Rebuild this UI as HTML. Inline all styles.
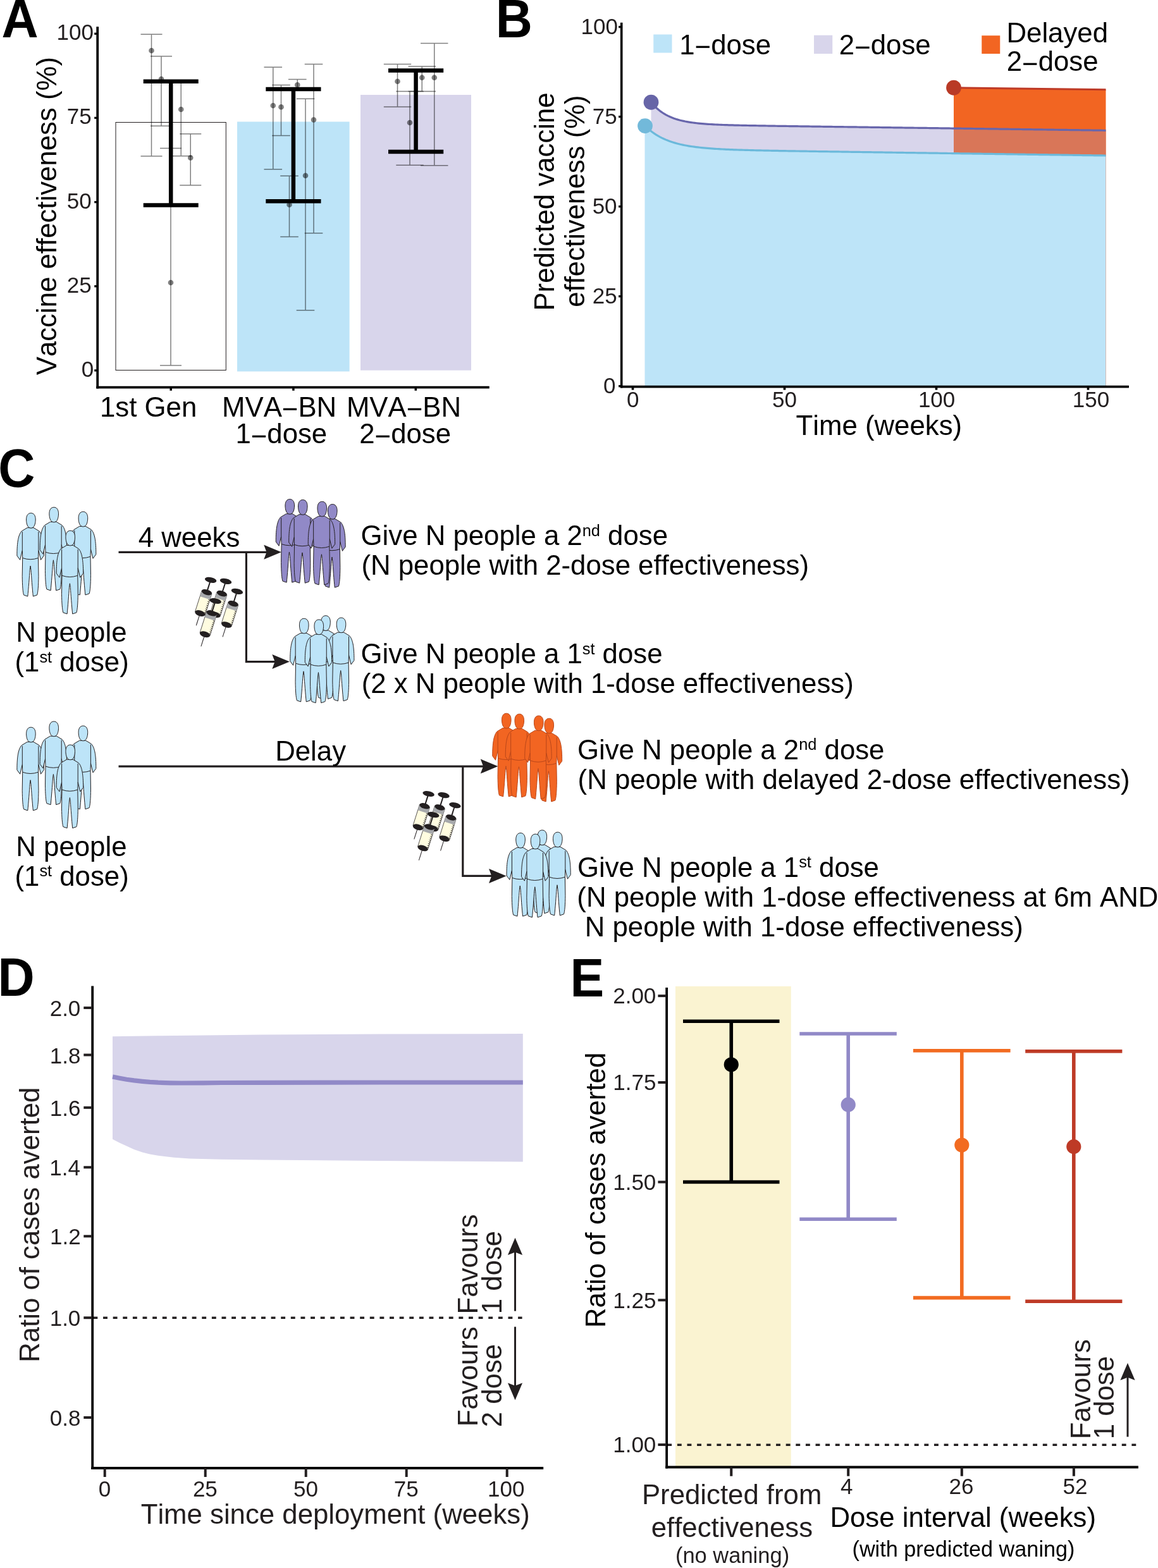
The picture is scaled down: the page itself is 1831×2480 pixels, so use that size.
<!DOCTYPE html>
<html lang="en"><head><meta charset="utf-8"><title>Figure</title>
<style>
html,body{margin:0;padding:0;background:#fff;width:1831px;height:2480px}
svg{display:block}
text{font-family:"Liberation Sans",sans-serif;font-kerning:none;white-space:pre}
</style></head>
<body>
<svg width="1831" height="2480" viewBox="0 0 1831 2480">
<rect width="1831" height="2480" fill="#fff"/>
<text transform="translate(2.49 59) scale(1 1.05)" font-size="80.5" font-weight="bold" fill="#000">A</text>
<text transform="translate(783.82 59.25) scale(1 1.05)" font-size="80.5" font-weight="bold" fill="#000">B</text>
<text transform="translate(-2.74 769.5) scale(1 1.05)" font-size="80.5" font-weight="bold" fill="#000">C</text>
<text transform="translate(-3.44 1575) scale(1 1.05)" font-size="80.5" font-weight="bold" fill="#000">D</text>
<text transform="translate(901.41 1575.5) scale(1 1.05)" font-size="80.5" font-weight="bold" fill="#000">E</text>
<rect x="183" y="193.5" width="174.3" height="392" fill="#fff" stroke="#231F20" stroke-width="1"/>
<rect x="375" y="192.5" width="177.6" height="395" fill="#BDE4F8"/>
<rect x="570" y="150" width="175" height="435.75" fill="#D8D5EB"/>
<g stroke="#000" stroke-opacity="0.5" stroke-width="1.5" fill="none"><path d="M239.5 54.25V247M222.5 54.25H256.5M222.5 247H256.5"/></g>
<circle cx="239.5" cy="80" r="4.3" fill="#000" fill-opacity="0.5"/>
<g stroke="#000" stroke-opacity="0.5" stroke-width="1.5" fill="none"><path d="M255 89V199.25M238 89H272M238 199.25H272"/></g>
<circle cx="255" cy="125" r="4.3" fill="#000" fill-opacity="0.5"/>
<g stroke="#000" stroke-opacity="0.5" stroke-width="1.5" fill="none"><path d="M286.25 128.5V246.75M269.25 128.5H303.25M269.25 246.75H303.25"/></g>
<circle cx="286.25" cy="173" r="4.3" fill="#000" fill-opacity="0.5"/>
<g stroke="#000" stroke-opacity="0.5" stroke-width="1.5" fill="none"><path d="M301.25 211.75V293M284.25 211.75H318.25M284.25 293H318.25"/></g>
<circle cx="301.25" cy="249.5" r="4.3" fill="#000" fill-opacity="0.5"/>
<g stroke="#000" stroke-opacity="0.5" stroke-width="1.5" fill="none"><path d="M270 234.5V578M253 234.5H287M253 578H287"/></g>
<circle cx="270" cy="447" r="4.3" fill="#000" fill-opacity="0.5"/>
<g stroke="#000" stroke-opacity="0.5" stroke-width="1.5" fill="none"><path d="M431.75 106.25V267.75M417.45 106.25H446.05M417.45 267.75H446.05"/></g>
<circle cx="431.75" cy="167" r="4.3" fill="#000" fill-opacity="0.5"/>
<g stroke="#000" stroke-opacity="0.5" stroke-width="1.5" fill="none"><path d="M444.5 134.5V214.5M430.2 134.5H458.8M430.2 214.5H458.8"/></g>
<circle cx="444.5" cy="169.25" r="4.3" fill="#000" fill-opacity="0.5"/>
<g stroke="#000" stroke-opacity="0.5" stroke-width="1.5" fill="none"><path d="M470.25 125.5V143M455.95 125.5H484.55M455.95 143H484.55"/></g>
<circle cx="470.25" cy="134.25" r="4.3" fill="#000" fill-opacity="0.5"/>
<g stroke="#000" stroke-opacity="0.5" stroke-width="1.5" fill="none"><path d="M457.5 278.25V374.5M443.2 278.25H471.8M443.2 374.5H471.8"/></g>
<circle cx="457.5" cy="323.75" r="4.3" fill="#000" fill-opacity="0.5"/>
<g stroke="#000" stroke-opacity="0.5" stroke-width="1.5" fill="none"><path d="M483 156.25V490.75M468.7 156.25H497.3M468.7 490.75H497.3"/></g>
<circle cx="483" cy="277.75" r="4.3" fill="#000" fill-opacity="0.5"/>
<g stroke="#000" stroke-opacity="0.5" stroke-width="1.5" fill="none"><path d="M496 101.5V368.75M481.7 101.5H510.3M481.7 368.75H510.3"/></g>
<circle cx="496" cy="189.5" r="4.3" fill="#000" fill-opacity="0.5"/>
<g stroke="#000" stroke-opacity="0.5" stroke-width="1.5" fill="none"><path d="M628.5 101.5V169M606.8 101.5H650.2M606.8 169H650.2"/></g>
<circle cx="628.5" cy="128.75" r="4.3" fill="#000" fill-opacity="0.5"/>
<g stroke="#000" stroke-opacity="0.5" stroke-width="1.5" fill="none"><path d="M648 144.5V261.25M626.3 144.5H669.7M626.3 261.25H669.7"/></g>
<circle cx="648" cy="194" r="4.3" fill="#000" fill-opacity="0.5"/>
<g stroke="#000" stroke-opacity="0.5" stroke-width="1.5" fill="none"><path d="M667.25 105V144.5M645.55 105H688.95M645.55 144.5H688.95"/></g>
<circle cx="667.25" cy="122.75" r="4.3" fill="#000" fill-opacity="0.5"/>
<g stroke="#000" stroke-opacity="0.5" stroke-width="1.5" fill="none"><path d="M686.75 68.5V261.75M665.05 68.5H708.45M665.05 261.75H708.45"/></g>
<circle cx="686.75" cy="122.75" r="4.3" fill="#000" fill-opacity="0.5"/>
<path d="M270.2 128.75V324.5M226.7 128.75H313.7M226.7 324.5H313.7" stroke="#000" stroke-width="6.5" fill="none"/>
<path d="M463.9 141V318.25M420.3 141H507.5M420.3 318.25H507.5" stroke="#000" stroke-width="6.5" fill="none"/>
<path d="M657.6 111.5V240M614 111.5H701.2M614 240H701.2" stroke="#000" stroke-width="6.5" fill="none"/>
<line x1="154.2" y1="42.3" x2="154.2" y2="614.5" stroke="#000" stroke-width="3.8"/>
<line x1="152.3" y1="612.7" x2="773.75" y2="612.7" stroke="#000" stroke-width="3.8"/>
<line x1="149.2" y1="585.9" x2="153" y2="585.9" stroke="#000" stroke-width="3.3"/>
<line x1="149.2" y1="452.75" x2="153" y2="452.75" stroke="#000" stroke-width="3.3"/>
<line x1="149.2" y1="319.6" x2="153" y2="319.6" stroke="#000" stroke-width="3.3"/>
<line x1="149.2" y1="186.45" x2="153" y2="186.45" stroke="#000" stroke-width="3.3"/>
<line x1="149.2" y1="53.3" x2="153" y2="53.3" stroke="#000" stroke-width="3.3"/>
<line x1="270.2" y1="613" x2="270.2" y2="617.8" stroke="#000" stroke-width="3.5"/>
<line x1="463.9" y1="613" x2="463.9" y2="617.8" stroke="#000" stroke-width="3.5"/>
<line x1="657.3" y1="613" x2="657.3" y2="617.8" stroke="#000" stroke-width="3.5"/>
<text transform="translate(128.8 595.8) scale(1 1)" font-size="35" fill="#231F20">0</text>
<text transform="translate(105.84 462.65) scale(1 1)" font-size="35" fill="#231F20">25</text>
<text transform="translate(105.74 329.5) scale(1 1)" font-size="35" fill="#231F20">50</text>
<text transform="translate(105.84 196.35) scale(1 1)" font-size="35" fill="#231F20">75</text>
<text transform="translate(89.57 63.2) scale(1 1)" font-size="35" fill="#231F20">100</text>
<text transform="translate(158.02 658.75) scale(1 1.03)" font-size="43.75" fill="#000">1st Gen</text>
<text transform="translate(351.05 658.5) scale(1 1.03)" font-size="43.75" fill="#000">MVA<tspan dy="3.38">−</tspan><tspan dy="-3.38">BN</tspan></text>
<text transform="translate(372.43 701.25) scale(1 1.03)" font-size="43.75" fill="#000">1<tspan dy="3.38">−</tspan><tspan dy="-3.38">dose</tspan></text>
<text transform="translate(547.92 658.5) scale(1 1.03)" font-size="43.75" fill="#000">MVA<tspan dy="3.38">−</tspan><tspan dy="-3.38">BN</tspan></text>
<text transform="translate(568.25 701.25) scale(1 1.03)" font-size="43.75" fill="#000">2<tspan dy="3.38">−</tspan><tspan dy="-3.38">dose</tspan></text>
<text transform="translate(89.25 593.28) rotate(-90) scale(1 1.03)" font-size="43.75" fill="#000">Vaccine effectiveness (%)</text>
<path d="M1508 138.75L1748.5 141.75V611H1508Z" fill="#F26522"/>
<path d="M1029.5 161.7 L1032.5 165.22 L1035.5 168.39 L1038.5 171.24 L1041.5 173.82 L1044.5 176.15 L1047.5 178.24 L1050.5 180.14 L1053.5 181.84 L1056.5 183.39 L1059.5 184.78 L1062.5 186.04 L1065.5 187.17 L1068.5 188.2 L1071.5 189.13 L1074.5 189.97 L1077.5 190.73 L1080.5 191.42 L1083.5 192.05 L1086.5 192.61 L1089.5 193.13 L1092.5 193.59 L1095.5 194.02 L1098.5 194.41 L1101.5 194.76 L1104.5 195.08 L1107.5 195.37 L1110.5 195.64 L1113.5 195.88 L1116.5 196.11 L1119.5 196.31 L1122.5 196.5 L1125.5 196.68 L1128.5 196.84 L1131.5 196.99 L1134.5 197.13 L1137.5 197.26 L1140.5 197.38 L1143.5 197.49 L1146.5 197.6 L1149.5 197.69 L1152.5 197.79 L1155.5 197.87 L1158.5 197.96 L1161.5 198.04 L1164.5 198.11 L1167.5 198.18 L1170.5 198.25 L1173.5 198.32 L1176.5 198.38 L1179.5 198.44 L1182.5 198.5 L1185.5 198.56 L1188.5 198.61 L1191.5 198.67 L1194.5 198.72 L1197.5 198.77 L1200.5 198.82 L1203.5 198.87 L1206.5 198.92 L1209.5 198.97 L1212.5 199.01 L1215.5 199.06 L1218.5 199.1 L1221.5 199.15 L1224.5 199.19 L1227.5 199.24 L1230.5 199.28 L1233.5 199.33 L1236.5 199.37 L1239.5 199.41 L1242.5 199.46 L1245.5 199.5 L1248.5 199.54 L1251.5 199.58 L1254.5 199.62 L1257.5 199.67 L1260.5 199.71 L1263.5 199.75 L1266.5 199.79 L1269.5 199.83 L1272.5 199.87 L1275.5 199.91 L1278.5 199.96 L1281.5 200 L1284.5 200.04 L1287.5 200.08 L1290.5 200.12 L1293.5 200.16 L1296.5 200.2 L1299.5 200.24 L1302.5 200.28 L1305.5 200.32 L1308.5 200.36 L1311.5 200.41 L1314.5 200.45 L1317.5 200.49 L1320.5 200.53 L1323.5 200.57 L1326.5 200.61 L1329.5 200.65 L1332.5 200.69 L1335.5 200.73 L1338.5 200.77 L1341.5 200.81 L1344.5 200.85 L1347.5 200.89 L1350.5 200.93 L1353.5 200.97 L1356.5 201.01 L1359.5 201.05 L1362.5 201.1 L1365.5 201.14 L1368.5 201.18 L1371.5 201.22 L1374.5 201.26 L1377.5 201.3 L1380.5 201.34 L1383.5 201.38 L1386.5 201.42 L1389.5 201.46 L1392.5 201.5 L1395.5 201.54 L1398.5 201.58 L1401.5 201.62 L1404.5 201.66 L1407.5 201.7 L1410.5 201.74 L1413.5 201.78 L1416.5 201.82 L1419.5 201.86 L1422.5 201.91 L1425.5 201.95 L1428.5 201.99 L1431.5 202.03 L1434.5 202.07 L1437.5 202.11 L1440.5 202.15 L1443.5 202.19 L1446.5 202.23 L1449.5 202.27 L1452.5 202.31 L1455.5 202.35 L1458.5 202.39 L1461.5 202.43 L1464.5 202.47 L1467.5 202.51 L1470.5 202.55 L1473.5 202.59 L1476.5 202.63 L1479.5 202.67 L1482.5 202.72 L1485.5 202.76 L1488.5 202.8 L1491.5 202.84 L1494.5 202.88 L1497.5 202.92 L1500.5 202.96 L1503.5 203 L1506.5 203.04 L1508 203.06 V611.6 H1029.5Z" fill="#D8D5EB"/>
<path d="M1508 203.06 L1748.5 206.31 V611.6 H1508Z" fill="#D97658"/>
<path d="M1019.5 198.7 L1022.5 201.6 L1025.5 204.28 L1028.5 206.76 L1031.5 209.04 L1034.5 211.16 L1037.5 213.11 L1040.5 214.92 L1043.5 216.58 L1046.5 218.13 L1049.5 219.55 L1052.5 220.87 L1055.5 222.09 L1058.5 223.22 L1061.5 224.27 L1064.5 225.23 L1067.5 226.13 L1070.5 226.96 L1073.5 227.73 L1076.5 228.44 L1079.5 229.1 L1082.5 229.71 L1085.5 230.28 L1088.5 230.81 L1091.5 231.3 L1094.5 231.76 L1097.5 232.18 L1100.5 232.57 L1103.5 232.94 L1106.5 233.28 L1109.5 233.6 L1112.5 233.9 L1115.5 234.18 L1118.5 234.44 L1121.5 234.68 L1124.5 234.91 L1127.5 235.12 L1130.5 235.32 L1133.5 235.51 L1136.5 235.68 L1139.5 235.85 L1142.5 236 L1145.5 236.15 L1148.5 236.29 L1151.5 236.42 L1154.5 236.55 L1157.5 236.67 L1160.5 236.78 L1163.5 236.89 L1166.5 236.99 L1169.5 237.09 L1172.5 237.18 L1175.5 237.27 L1178.5 237.36 L1181.5 237.44 L1184.5 237.52 L1187.5 237.6 L1190.5 237.67 L1193.5 237.74 L1196.5 237.81 L1199.5 237.88 L1202.5 237.95 L1205.5 238.01 L1208.5 238.07 L1211.5 238.13 L1214.5 238.19 L1217.5 238.25 L1220.5 238.31 L1223.5 238.36 L1226.5 238.42 L1229.5 238.47 L1232.5 238.53 L1235.5 238.58 L1238.5 238.63 L1241.5 238.68 L1244.5 238.73 L1247.5 238.78 L1250.5 238.83 L1253.5 238.88 L1256.5 238.93 L1259.5 238.98 L1262.5 239.02 L1265.5 239.07 L1268.5 239.12 L1271.5 239.16 L1274.5 239.21 L1277.5 239.26 L1280.5 239.3 L1283.5 239.35 L1286.5 239.39 L1289.5 239.44 L1292.5 239.48 L1295.5 239.53 L1298.5 239.57 L1301.5 239.62 L1304.5 239.66 L1307.5 239.71 L1310.5 239.75 L1313.5 239.8 L1316.5 239.84 L1319.5 239.88 L1322.5 239.93 L1325.5 239.97 L1328.5 240.01 L1331.5 240.06 L1334.5 240.1 L1337.5 240.15 L1340.5 240.19 L1343.5 240.23 L1346.5 240.28 L1349.5 240.32 L1352.5 240.36 L1355.5 240.41 L1358.5 240.45 L1361.5 240.49 L1364.5 240.54 L1367.5 240.58 L1370.5 240.62 L1373.5 240.67 L1376.5 240.71 L1379.5 240.75 L1382.5 240.8 L1385.5 240.84 L1388.5 240.88 L1391.5 240.93 L1394.5 240.97 L1397.5 241.01 L1400.5 241.06 L1403.5 241.1 L1406.5 241.14 L1409.5 241.18 L1412.5 241.23 L1415.5 241.27 L1418.5 241.31 L1421.5 241.36 L1424.5 241.4 L1427.5 241.44 L1430.5 241.49 L1433.5 241.53 L1436.5 241.57 L1439.5 241.62 L1442.5 241.66 L1445.5 241.7 L1448.5 241.74 L1451.5 241.79 L1454.5 241.83 L1457.5 241.87 L1460.5 241.92 L1463.5 241.96 L1466.5 242 L1469.5 242.05 L1472.5 242.09 L1475.5 242.13 L1478.5 242.17 L1481.5 242.22 L1484.5 242.26 L1487.5 242.3 L1490.5 242.35 L1493.5 242.39 L1496.5 242.43 L1499.5 242.48 L1502.5 242.52 L1505.5 242.56 L1508.5 242.61 L1511.5 242.65 L1514.5 242.69 L1517.5 242.73 L1520.5 242.78 L1523.5 242.82 L1526.5 242.86 L1529.5 242.91 L1532.5 242.95 L1535.5 242.99 L1538.5 243.04 L1541.5 243.08 L1544.5 243.12 L1547.5 243.16 L1550.5 243.21 L1553.5 243.25 L1556.5 243.29 L1559.5 243.34 L1562.5 243.38 L1565.5 243.42 L1568.5 243.47 L1571.5 243.51 L1574.5 243.55 L1577.5 243.59 L1580.5 243.64 L1583.5 243.68 L1586.5 243.72 L1589.5 243.77 L1592.5 243.81 L1595.5 243.85 L1598.5 243.9 L1601.5 243.94 L1604.5 243.98 L1607.5 244.02 L1610.5 244.07 L1613.5 244.11 L1616.5 244.15 L1619.5 244.2 L1622.5 244.24 L1625.5 244.28 L1628.5 244.33 L1631.5 244.37 L1634.5 244.41 L1637.5 244.45 L1640.5 244.5 L1643.5 244.54 L1646.5 244.58 L1649.5 244.63 L1652.5 244.67 L1655.5 244.71 L1658.5 244.76 L1661.5 244.8 L1664.5 244.84 L1667.5 244.89 L1670.5 244.93 L1673.5 244.97 L1676.5 245.01 L1679.5 245.06 L1682.5 245.1 L1685.5 245.14 L1688.5 245.19 L1691.5 245.23 L1694.5 245.27 L1697.5 245.32 L1700.5 245.36 L1703.5 245.4 L1706.5 245.44 L1709.5 245.49 L1712.5 245.53 L1715.5 245.57 L1718.5 245.62 L1721.5 245.66 L1724.5 245.7 L1727.5 245.75 L1730.5 245.79 L1733.5 245.83 L1736.5 245.87 L1739.5 245.92 L1742.5 245.96 L1745.5 246 L1748.5 246.05V611.6 H1019.5Z" fill="#BDE4F8"/>
<path d="M1508 138.75L1748.5 141.75" stroke="#BE3A26" stroke-width="3" fill="none"/>
<path d="M1029.5 161.7 L1032.5 165.22 L1035.5 168.39 L1038.5 171.24 L1041.5 173.82 L1044.5 176.15 L1047.5 178.24 L1050.5 180.14 L1053.5 181.84 L1056.5 183.39 L1059.5 184.78 L1062.5 186.04 L1065.5 187.17 L1068.5 188.2 L1071.5 189.13 L1074.5 189.97 L1077.5 190.73 L1080.5 191.42 L1083.5 192.05 L1086.5 192.61 L1089.5 193.13 L1092.5 193.59 L1095.5 194.02 L1098.5 194.41 L1101.5 194.76 L1104.5 195.08 L1107.5 195.37 L1110.5 195.64 L1113.5 195.88 L1116.5 196.11 L1119.5 196.31 L1122.5 196.5 L1125.5 196.68 L1128.5 196.84 L1131.5 196.99 L1134.5 197.13 L1137.5 197.26 L1140.5 197.38 L1143.5 197.49 L1146.5 197.6 L1149.5 197.69 L1152.5 197.79 L1155.5 197.87 L1158.5 197.96 L1161.5 198.04 L1164.5 198.11 L1167.5 198.18 L1170.5 198.25 L1173.5 198.32 L1176.5 198.38 L1179.5 198.44 L1182.5 198.5 L1185.5 198.56 L1188.5 198.61 L1191.5 198.67 L1194.5 198.72 L1197.5 198.77 L1200.5 198.82 L1203.5 198.87 L1206.5 198.92 L1209.5 198.97 L1212.5 199.01 L1215.5 199.06 L1218.5 199.1 L1221.5 199.15 L1224.5 199.19 L1227.5 199.24 L1230.5 199.28 L1233.5 199.33 L1236.5 199.37 L1239.5 199.41 L1242.5 199.46 L1245.5 199.5 L1248.5 199.54 L1251.5 199.58 L1254.5 199.62 L1257.5 199.67 L1260.5 199.71 L1263.5 199.75 L1266.5 199.79 L1269.5 199.83 L1272.5 199.87 L1275.5 199.91 L1278.5 199.96 L1281.5 200 L1284.5 200.04 L1287.5 200.08 L1290.5 200.12 L1293.5 200.16 L1296.5 200.2 L1299.5 200.24 L1302.5 200.28 L1305.5 200.32 L1308.5 200.36 L1311.5 200.41 L1314.5 200.45 L1317.5 200.49 L1320.5 200.53 L1323.5 200.57 L1326.5 200.61 L1329.5 200.65 L1332.5 200.69 L1335.5 200.73 L1338.5 200.77 L1341.5 200.81 L1344.5 200.85 L1347.5 200.89 L1350.5 200.93 L1353.5 200.97 L1356.5 201.01 L1359.5 201.05 L1362.5 201.1 L1365.5 201.14 L1368.5 201.18 L1371.5 201.22 L1374.5 201.26 L1377.5 201.3 L1380.5 201.34 L1383.5 201.38 L1386.5 201.42 L1389.5 201.46 L1392.5 201.5 L1395.5 201.54 L1398.5 201.58 L1401.5 201.62 L1404.5 201.66 L1407.5 201.7 L1410.5 201.74 L1413.5 201.78 L1416.5 201.82 L1419.5 201.86 L1422.5 201.91 L1425.5 201.95 L1428.5 201.99 L1431.5 202.03 L1434.5 202.07 L1437.5 202.11 L1440.5 202.15 L1443.5 202.19 L1446.5 202.23 L1449.5 202.27 L1452.5 202.31 L1455.5 202.35 L1458.5 202.39 L1461.5 202.43 L1464.5 202.47 L1467.5 202.51 L1470.5 202.55 L1473.5 202.59 L1476.5 202.63 L1479.5 202.67 L1482.5 202.72 L1485.5 202.76 L1488.5 202.8 L1491.5 202.84 L1494.5 202.88 L1497.5 202.92 L1500.5 202.96 L1503.5 203 L1506.5 203.04 L1509.5 203.08 L1512.5 203.12 L1515.5 203.16 L1518.5 203.2 L1521.5 203.24 L1524.5 203.28 L1527.5 203.32 L1530.5 203.36 L1533.5 203.4 L1536.5 203.44 L1539.5 203.48 L1542.5 203.53 L1545.5 203.57 L1548.5 203.61 L1551.5 203.65 L1554.5 203.69 L1557.5 203.73 L1560.5 203.77 L1563.5 203.81 L1566.5 203.85 L1569.5 203.89 L1572.5 203.93 L1575.5 203.97 L1578.5 204.01 L1581.5 204.05 L1584.5 204.09 L1587.5 204.13 L1590.5 204.17 L1593.5 204.21 L1596.5 204.25 L1599.5 204.29 L1602.5 204.34 L1605.5 204.38 L1608.5 204.42 L1611.5 204.46 L1614.5 204.5 L1617.5 204.54 L1620.5 204.58 L1623.5 204.62 L1626.5 204.66 L1629.5 204.7 L1632.5 204.74 L1635.5 204.78 L1638.5 204.82 L1641.5 204.86 L1644.5 204.9 L1647.5 204.94 L1650.5 204.98 L1653.5 205.02 L1656.5 205.06 L1659.5 205.1 L1662.5 205.15 L1665.5 205.19 L1668.5 205.23 L1671.5 205.27 L1674.5 205.31 L1677.5 205.35 L1680.5 205.39 L1683.5 205.43 L1686.5 205.47 L1689.5 205.51 L1692.5 205.55 L1695.5 205.59 L1698.5 205.63 L1701.5 205.67 L1704.5 205.71 L1707.5 205.75 L1710.5 205.79 L1713.5 205.83 L1716.5 205.87 L1719.5 205.91 L1722.5 205.96 L1725.5 206 L1728.5 206.04 L1731.5 206.08 L1734.5 206.12 L1737.5 206.16 L1740.5 206.2 L1743.5 206.24 L1746.5 206.28 L1748.5 206.31" stroke="#6866AC" stroke-width="3.2" fill="none"/>
<path d="M1019.5 198.7 L1022.5 201.6 L1025.5 204.28 L1028.5 206.76 L1031.5 209.04 L1034.5 211.16 L1037.5 213.11 L1040.5 214.92 L1043.5 216.58 L1046.5 218.13 L1049.5 219.55 L1052.5 220.87 L1055.5 222.09 L1058.5 223.22 L1061.5 224.27 L1064.5 225.23 L1067.5 226.13 L1070.5 226.96 L1073.5 227.73 L1076.5 228.44 L1079.5 229.1 L1082.5 229.71 L1085.5 230.28 L1088.5 230.81 L1091.5 231.3 L1094.5 231.76 L1097.5 232.18 L1100.5 232.57 L1103.5 232.94 L1106.5 233.28 L1109.5 233.6 L1112.5 233.9 L1115.5 234.18 L1118.5 234.44 L1121.5 234.68 L1124.5 234.91 L1127.5 235.12 L1130.5 235.32 L1133.5 235.51 L1136.5 235.68 L1139.5 235.85 L1142.5 236 L1145.5 236.15 L1148.5 236.29 L1151.5 236.42 L1154.5 236.55 L1157.5 236.67 L1160.5 236.78 L1163.5 236.89 L1166.5 236.99 L1169.5 237.09 L1172.5 237.18 L1175.5 237.27 L1178.5 237.36 L1181.5 237.44 L1184.5 237.52 L1187.5 237.6 L1190.5 237.67 L1193.5 237.74 L1196.5 237.81 L1199.5 237.88 L1202.5 237.95 L1205.5 238.01 L1208.5 238.07 L1211.5 238.13 L1214.5 238.19 L1217.5 238.25 L1220.5 238.31 L1223.5 238.36 L1226.5 238.42 L1229.5 238.47 L1232.5 238.53 L1235.5 238.58 L1238.5 238.63 L1241.5 238.68 L1244.5 238.73 L1247.5 238.78 L1250.5 238.83 L1253.5 238.88 L1256.5 238.93 L1259.5 238.98 L1262.5 239.02 L1265.5 239.07 L1268.5 239.12 L1271.5 239.16 L1274.5 239.21 L1277.5 239.26 L1280.5 239.3 L1283.5 239.35 L1286.5 239.39 L1289.5 239.44 L1292.5 239.48 L1295.5 239.53 L1298.5 239.57 L1301.5 239.62 L1304.5 239.66 L1307.5 239.71 L1310.5 239.75 L1313.5 239.8 L1316.5 239.84 L1319.5 239.88 L1322.5 239.93 L1325.5 239.97 L1328.5 240.01 L1331.5 240.06 L1334.5 240.1 L1337.5 240.15 L1340.5 240.19 L1343.5 240.23 L1346.5 240.28 L1349.5 240.32 L1352.5 240.36 L1355.5 240.41 L1358.5 240.45 L1361.5 240.49 L1364.5 240.54 L1367.5 240.58 L1370.5 240.62 L1373.5 240.67 L1376.5 240.71 L1379.5 240.75 L1382.5 240.8 L1385.5 240.84 L1388.5 240.88 L1391.5 240.93 L1394.5 240.97 L1397.5 241.01 L1400.5 241.06 L1403.5 241.1 L1406.5 241.14 L1409.5 241.18 L1412.5 241.23 L1415.5 241.27 L1418.5 241.31 L1421.5 241.36 L1424.5 241.4 L1427.5 241.44 L1430.5 241.49 L1433.5 241.53 L1436.5 241.57 L1439.5 241.62 L1442.5 241.66 L1445.5 241.7 L1448.5 241.74 L1451.5 241.79 L1454.5 241.83 L1457.5 241.87 L1460.5 241.92 L1463.5 241.96 L1466.5 242 L1469.5 242.05 L1472.5 242.09 L1475.5 242.13 L1478.5 242.17 L1481.5 242.22 L1484.5 242.26 L1487.5 242.3 L1490.5 242.35 L1493.5 242.39 L1496.5 242.43 L1499.5 242.48 L1502.5 242.52 L1505.5 242.56 L1508.5 242.61 L1511.5 242.65 L1514.5 242.69 L1517.5 242.73 L1520.5 242.78 L1523.5 242.82 L1526.5 242.86 L1529.5 242.91 L1532.5 242.95 L1535.5 242.99 L1538.5 243.04 L1541.5 243.08 L1544.5 243.12 L1547.5 243.16 L1550.5 243.21 L1553.5 243.25 L1556.5 243.29 L1559.5 243.34 L1562.5 243.38 L1565.5 243.42 L1568.5 243.47 L1571.5 243.51 L1574.5 243.55 L1577.5 243.59 L1580.5 243.64 L1583.5 243.68 L1586.5 243.72 L1589.5 243.77 L1592.5 243.81 L1595.5 243.85 L1598.5 243.9 L1601.5 243.94 L1604.5 243.98 L1607.5 244.02 L1610.5 244.07 L1613.5 244.11 L1616.5 244.15 L1619.5 244.2 L1622.5 244.24 L1625.5 244.28 L1628.5 244.33 L1631.5 244.37 L1634.5 244.41 L1637.5 244.45 L1640.5 244.5 L1643.5 244.54 L1646.5 244.58 L1649.5 244.63 L1652.5 244.67 L1655.5 244.71 L1658.5 244.76 L1661.5 244.8 L1664.5 244.84 L1667.5 244.89 L1670.5 244.93 L1673.5 244.97 L1676.5 245.01 L1679.5 245.06 L1682.5 245.1 L1685.5 245.14 L1688.5 245.19 L1691.5 245.23 L1694.5 245.27 L1697.5 245.32 L1700.5 245.36 L1703.5 245.4 L1706.5 245.44 L1709.5 245.49 L1712.5 245.53 L1715.5 245.57 L1718.5 245.62 L1721.5 245.66 L1724.5 245.7 L1727.5 245.75 L1730.5 245.79 L1733.5 245.83 L1736.5 245.87 L1739.5 245.92 L1742.5 245.96 L1745.5 246 L1748.5 246.05" stroke="#6BB9DB" stroke-width="3.2" fill="none"/>
<circle cx="1020" cy="199.1" r="11.9" fill="#72B9DA"/>
<circle cx="1029.5" cy="161.75" r="11.9" fill="#6765A7"/>
<circle cx="1508" cy="138.75" r="11.9" fill="#B93A26"/>
<rect x="1033.25" y="54.5" width="29.25" height="29" fill="#BDE4F8"/>
<rect x="1287" y="55.75" width="29.25" height="29.25" fill="#D8D5EB"/>
<rect x="1552.25" y="56.25" width="29" height="28.75" fill="#F26522"/>
<text transform="translate(1074.28 85.9) scale(1 1.03)" font-size="43.75" fill="#000">1<tspan dy="3.38">−</tspan><tspan dy="-3.38">dose</tspan></text>
<text transform="translate(1326.87 86.3) scale(1 1.03)" font-size="43.75" fill="#000">2<tspan dy="3.38">−</tspan><tspan dy="-3.38">dose</tspan></text>
<text transform="translate(1591.48 67.4) scale(1 1.03)" font-size="43.75" fill="#000">Delayed</text>
<text transform="translate(1591.75 112.4) scale(1 1.03)" font-size="43.75" fill="#000">2<tspan dy="3.38">−</tspan><tspan dy="-3.38">dose</tspan></text>
<line x1="982.7" y1="35.75" x2="982.7" y2="613.5" stroke="#000" stroke-width="3.6"/>
<line x1="980.9" y1="611.6" x2="1785" y2="611.6" stroke="#000" stroke-width="3.8"/>
<line x1="978.1" y1="610.7" x2="982" y2="610.7" stroke="#000" stroke-width="3.4"/>
<line x1="978.1" y1="468.67" x2="982" y2="468.67" stroke="#000" stroke-width="3.4"/>
<line x1="978.1" y1="326.64" x2="982" y2="326.64" stroke="#000" stroke-width="3.4"/>
<line x1="978.1" y1="184.61" x2="982" y2="184.61" stroke="#000" stroke-width="3.4"/>
<line x1="978.1" y1="42.58" x2="982" y2="42.58" stroke="#000" stroke-width="3.4"/>
<line x1="1000.5" y1="612" x2="1000.5" y2="616.7" stroke="#000" stroke-width="3.6"/>
<line x1="1240.5" y1="612" x2="1240.5" y2="616.7" stroke="#000" stroke-width="3.6"/>
<line x1="1480.5" y1="612" x2="1480.5" y2="616.7" stroke="#000" stroke-width="3.6"/>
<line x1="1720.5" y1="612" x2="1720.5" y2="616.7" stroke="#000" stroke-width="3.6"/>
<text transform="translate(954.1 622.4) scale(1 1)" font-size="35" fill="#231F20">0</text>
<text transform="translate(936.74 480.37) scale(1 1)" font-size="35" fill="#231F20">25</text>
<text transform="translate(936.64 338.34) scale(1 1)" font-size="35" fill="#231F20">50</text>
<text transform="translate(936.74 196.31) scale(1 1)" font-size="35" fill="#231F20">75</text>
<text transform="translate(918.47 54.28) scale(1 1)" font-size="35" fill="#231F20">100</text>
<text transform="translate(990.92 644.35) scale(1 1)" font-size="35" fill="#231F20">0</text>
<text transform="translate(1221.12 644.35) scale(1 1)" font-size="35" fill="#231F20">50</text>
<text transform="translate(1451.9 644.35) scale(1 1)" font-size="35" fill="#231F20">100</text>
<text transform="translate(1695.85 644.35) scale(1 1)" font-size="35" fill="#231F20">150</text>
<text transform="translate(1258.6 688) scale(1 1.03)" font-size="43.75" fill="#000">Time (weeks)</text>
<text transform="translate(876.25 491.61) rotate(-90) scale(1 1.03)" font-size="43.75" fill="#000">Predicted vaccine</text>
<text transform="translate(923.75 485.84) rotate(-90) scale(1 1.03)" font-size="43.75" fill="#000">effectiveness (%)</text>
<defs>
<g id="person">
<g transform="translate(-0.8 0)">
<path d="M-5,23.2 L-13.8,28.5 C-19,34 -21.3,46 -21.2,67.5 L-16.4,74 L-12.8,59 L-12.4,71 L-12.9,100 C-12.7,115 -12,125 -10.5,129.6 L-4.3,131.7 C-3,120 -1.6,100 -0.9,90 L0,83.5 L0.9,90 C1.6,100 3,120 4.3,131.7 L10.5,129.6 C12,125 12.7,115 12.9,100 L12.4,71 L12.8,59 L16.4,74 L21.2,67.5 C21.3,46 19,34 13.8,28.5 L5,23.2 Z"/>
<path d="M-12.8,29.5 L-12.8,59 M12.8,29.5 L12.8,59 M-12.4,71 Q0,75.5 12.4,71" fill="none"/>
</g>
<path d="M0,0 C4.8,0 7.4,4.2 7.3,10.5 C7.2,17 5.3,23.7 0,23.7 C-5.3,23.7 -7.2,17 -7.3,10.5 C-7.4,4.2 -4.8,0 0,0Z"/>
</g>
<g id="syr">
<line x1="0" y1="59" x2="0" y2="75.5" stroke="#231F20" stroke-width="1"/>
<rect x="-8.3" y="20.3" width="16.6" height="35" fill="#FFFCE0" stroke="#231F20" stroke-width="0.7"/>
<rect x="-8.3" y="20.3" width="16.6" height="9.5" fill="#A7A9AC"/>
<path d="M8.3 31h-2.4M8.3 34h-2.4M8.3 37h-2.4M8.3 40h-2.4M8.3 43h-2.4M8.3 46h-2.4M8.3 49h-2.4M8.3 52h-2.4" stroke="#231F20" stroke-width="0.9"/>
<ellipse cx="0" cy="55.3" rx="8.4" ry="4.4" fill="#231F20"/>
<ellipse cx="0" cy="20.3" rx="8.4" ry="4.2" fill="#231F20"/>
<line x1="0" y1="2" x2="0" y2="19" stroke="#231F20" stroke-width="2"/>
<ellipse cx="0" cy="0" rx="9.4" ry="4.2" fill="#231F20" transform="rotate(-5)"/>
</g>
</defs>
<use href="#person" x="48.9" y="811.5" fill="#BDE4F8" stroke="#231F20" stroke-width="1" stroke-linejoin="round"/>
<use href="#person" x="85.2" y="802.3" fill="#BDE4F8" stroke="#231F20" stroke-width="1" stroke-linejoin="round"/>
<use href="#person" x="131.4" y="809.3" fill="#BDE4F8" stroke="#231F20" stroke-width="1" stroke-linejoin="round"/>
<use href="#person" x="111.2" y="839.3" fill="#BDE4F8" stroke="#231F20" stroke-width="1" stroke-linejoin="round"/>
<text transform="translate(25.36 1015.3) scale(1 1.03)" font-size="43.75" fill="#000">N people</text>
<text transform="translate(23.49 1062) scale(1 1.03)" font-size="43.75" fill="#000">(1<tspan dy="-14.08" font-size="25.38">st</tspan><tspan dy="14.08" font-size="43.75"> dose)</tspan></text>
<use href="#person" x="48.9" y="1150.25" fill="#BDE4F8" stroke="#231F20" stroke-width="1" stroke-linejoin="round"/>
<use href="#person" x="85.2" y="1141.05" fill="#BDE4F8" stroke="#231F20" stroke-width="1" stroke-linejoin="round"/>
<use href="#person" x="131.4" y="1148.05" fill="#BDE4F8" stroke="#231F20" stroke-width="1" stroke-linejoin="round"/>
<use href="#person" x="111.2" y="1178.05" fill="#BDE4F8" stroke="#231F20" stroke-width="1" stroke-linejoin="round"/>
<text transform="translate(25.36 1354.05) scale(1 1.03)" font-size="43.75" fill="#000">N people</text>
<text transform="translate(23.49 1400.75) scale(1 1.03)" font-size="43.75" fill="#000">(1<tspan dy="-14.08" font-size="25.38">st</tspan><tspan dy="14.08" font-size="43.75"> dose)</tspan></text>
<path d="M187.5 873.3H424.8M389.4 873.3V1046.6H437.9" stroke="#231F20" stroke-width="3.2" fill="none"/>
<path d="M444.8 873.3L417.2 861.8L421.5 873.3L417.2 884.8Z" fill="#231F20"/>
<path d="M457.9 1046.6L430.3 1035.1L434.6 1046.6L430.3 1058.1Z" fill="#231F20"/>
<path d="M187.5 1212.1H767.4M731.8 1212.1V1385.4H780.6" stroke="#231F20" stroke-width="3.2" fill="none"/>
<path d="M787.4 1212.1L759.8 1200.6L764.1 1212.1L759.8 1223.6Z" fill="#231F20"/>
<path d="M800.6 1385.4L773 1373.9L777.3 1385.4L773 1396.9Z" fill="#231F20"/>
<text transform="translate(218.79 865) scale(1 1.03)" font-size="43.75" fill="#000">4 weeks</text>
<text transform="translate(435.2 1202.5) scale(1 1.03)" font-size="43.75" fill="#000">Delay</text>
<use href="#syr" transform="translate(333.1 917.3) rotate(17.6)"/>
<use href="#syr" transform="translate(357 919.4) rotate(17.6)"/>
<use href="#syr" transform="translate(374.9 935.4) rotate(17.6)"/>
<use href="#syr" transform="translate(340.7 950.5) rotate(17.6)"/>
<use href="#syr" transform="translate(677.6 1255.5) rotate(17.6)"/>
<use href="#syr" transform="translate(701.5 1257.6) rotate(17.6)"/>
<use href="#syr" transform="translate(719.4 1273.6) rotate(17.6)"/>
<use href="#syr" transform="translate(685.2 1288.7) rotate(17.6)"/>
<use href="#person" x="458.25" y="789.5" fill="#9189C7" stroke="#231F20" stroke-width="1" stroke-linejoin="round"/>
<use href="#person" x="478.75" y="790.5" fill="#9189C7" stroke="#231F20" stroke-width="1" stroke-linejoin="round"/>
<use href="#person" x="525.75" y="797.5" fill="#9189C7" stroke="#231F20" stroke-width="1" stroke-linejoin="round"/>
<use href="#person" x="509.25" y="793.25" fill="#9189C7" stroke="#231F20" stroke-width="1" stroke-linejoin="round"/>
<use href="#person" x="515" y="973.75" fill="#BDE4F8" stroke="#231F20" stroke-width="1" stroke-linejoin="round"/>
<use href="#person" x="480.75" y="978.25" fill="#BDE4F8" stroke="#231F20" stroke-width="1" stroke-linejoin="round"/>
<use href="#person" x="539.5" y="977" fill="#BDE4F8" stroke="#231F20" stroke-width="1" stroke-linejoin="round"/>
<use href="#person" x="504.25" y="980" fill="#BDE4F8" stroke="#231F20" stroke-width="1" stroke-linejoin="round"/>
<use href="#person" x="800.75" y="1128.25" fill="#F26522" stroke="#B8461A" stroke-width="1" stroke-linejoin="round"/>
<use href="#person" x="821.25" y="1129.25" fill="#F26522" stroke="#B8461A" stroke-width="1" stroke-linejoin="round"/>
<use href="#person" x="868.25" y="1136.25" fill="#F26522" stroke="#B8461A" stroke-width="1" stroke-linejoin="round"/>
<use href="#person" x="851.75" y="1132" fill="#F26522" stroke="#B8461A" stroke-width="1" stroke-linejoin="round"/>
<use href="#person" x="857.3" y="1312.95" fill="#BDE4F8" stroke="#231F20" stroke-width="1" stroke-linejoin="round"/>
<use href="#person" x="823.05" y="1317.45" fill="#BDE4F8" stroke="#231F20" stroke-width="1" stroke-linejoin="round"/>
<use href="#person" x="881.8" y="1316.2" fill="#BDE4F8" stroke="#231F20" stroke-width="1" stroke-linejoin="round"/>
<use href="#person" x="846.55" y="1319.2" fill="#BDE4F8" stroke="#231F20" stroke-width="1" stroke-linejoin="round"/>
<text transform="translate(570.55 862.1) scale(1 1.03)" font-size="43.75" fill="#000">Give N people a 2<tspan dy="-14.08" font-size="25.38">nd</tspan><tspan dy="14.08" font-size="43.75"> dose</tspan></text>
<text transform="translate(571.43 908.9) scale(1 1.03)" font-size="43.75" fill="#000">(N people with 2-dose effectiveness)</text>
<text transform="translate(570.55 1049.3) scale(1 1.03)" font-size="43.75" fill="#000">Give N people a 1<tspan dy="-14.08" font-size="25.38">st</tspan><tspan dy="14.08" font-size="43.75"> dose</tspan></text>
<text transform="translate(571.67 1096.1) scale(1 1.03)" font-size="43.75" fill="#000">(2 x N people with 1-dose effectiveness)</text>
<text transform="translate(913 1200.85) scale(1 1.03)" font-size="43.75" fill="#000">Give N people a 2<tspan dy="-14.08" font-size="25.38">nd</tspan><tspan dy="14.08" font-size="43.75"> dose</tspan></text>
<text transform="translate(913.62 1247.9) scale(1 1.03)" font-size="43.75" fill="#000">(N people with delayed 2-dose effectiveness)</text>
<text transform="translate(913 1386.9) scale(1 1.03)" font-size="43.75" fill="#000">Give N people a 1<tspan dy="-14.08" font-size="25.38">st</tspan><tspan dy="14.08" font-size="43.75"> dose</tspan></text>
<text transform="translate(912.35 1434) scale(1 1.03)" font-size="43.75" fill="#000">(N people with 1-dose effectiveness at 6m AND</text>
<text transform="translate(924.77 1480.6) scale(1 1.03)" font-size="43.75" fill="#000">N people with 1-dose effectiveness)</text>
<path d="M178 1639.25 L250 1638.2 L413 1636.5 L600 1635.5 L826.8 1635 L826.8 1837.5 L600 1836 L413 1834.5 L350 1833.8 L300 1832.5 L275 1830.8 L250 1827.8 L237 1825.5 L225 1822.5 L212 1818 L200 1812.5 L189 1807.5 L178 1801.75Z" fill="#D8D5EB"/>
<path d="M178 1703 L189 1705.2 L200 1707.2 L212 1708.9 L225 1710.3 L237 1711.4 L250 1712.2 L270 1712.8 L287 1713 L320 1712.8 L350 1712.5 L413 1712.3 L600 1712 L826.8 1712" stroke="#9189C7" stroke-width="7.2" fill="none" stroke-linejoin="round"/>
<line x1="147.42" y1="2084.2" x2="825.6" y2="2084.2" stroke="#231F20" stroke-width="3.4" stroke-dasharray="6.9 8.72"/>
<line x1="146.2" y1="1559.5" x2="146.2" y2="2323.9" stroke="#000" stroke-width="3.8"/>
<line x1="144.3" y1="2322" x2="859.2" y2="2322" stroke="#000" stroke-width="3.9"/>
<line x1="132.3" y1="1594" x2="146" y2="1594" stroke="#231F20" stroke-width="4"/>
<line x1="132.3" y1="1668.51" x2="146" y2="1668.51" stroke="#231F20" stroke-width="4"/>
<line x1="132.3" y1="1751.81" x2="146" y2="1751.81" stroke="#231F20" stroke-width="4"/>
<line x1="132.3" y1="1846.24" x2="146" y2="1846.24" stroke="#231F20" stroke-width="4"/>
<line x1="132.3" y1="1955.26" x2="146" y2="1955.26" stroke="#231F20" stroke-width="4"/>
<line x1="132.3" y1="2084.19" x2="146" y2="2084.19" stroke="#231F20" stroke-width="4"/>
<line x1="132.3" y1="2242" x2="146" y2="2242" stroke="#231F20" stroke-width="4"/>
<line x1="165.7" y1="2322" x2="165.7" y2="2336" stroke="#231F20" stroke-width="4"/>
<line x1="324.7" y1="2322" x2="324.7" y2="2336" stroke="#231F20" stroke-width="4"/>
<line x1="483.7" y1="2322" x2="483.7" y2="2336" stroke="#231F20" stroke-width="4"/>
<line x1="642.7" y1="2322" x2="642.7" y2="2336" stroke="#231F20" stroke-width="4"/>
<line x1="801.7" y1="2322" x2="801.7" y2="2336" stroke="#231F20" stroke-width="4"/>
<text transform="translate(78.66 1607) scale(1 1)" font-size="35" fill="#231F20">2.0</text>
<text transform="translate(78.82 1681.51) scale(1 1)" font-size="35" fill="#231F20">1.8</text>
<text transform="translate(78.83 1764.81) scale(1 1)" font-size="35" fill="#231F20">1.6</text>
<text transform="translate(78.32 1859.24) scale(1 1)" font-size="35" fill="#231F20">1.4</text>
<text transform="translate(79.06 1968.26) scale(1 1)" font-size="35" fill="#231F20">1.2</text>
<text transform="translate(78.66 2097.19) scale(1 1)" font-size="35" fill="#231F20">1.0</text>
<text transform="translate(78.82 2255) scale(1 1)" font-size="35" fill="#231F20">0.8</text>
<text transform="translate(155.72 2367.45) scale(1 1)" font-size="35" fill="#231F20">0</text>
<text transform="translate(304.89 2367.45) scale(1 1)" font-size="35" fill="#231F20">25</text>
<text transform="translate(463.92 2367.45) scale(1 1)" font-size="35" fill="#231F20">50</text>
<text transform="translate(622.72 2367.45) scale(1 1)" font-size="35" fill="#231F20">75</text>
<text transform="translate(771.1 2367.45) scale(1 1)" font-size="35" fill="#231F20">100</text>
<text transform="translate(222.67 2409.8) scale(1 1.03)" font-size="43.75" fill="#231F20">Time since deployment (weeks)</text>
<text transform="translate(61.9 2154.81) rotate(-90) scale(1 1.03)" font-size="43.75" fill="#231F20">Ratio of cases averted</text>
<text transform="translate(754.7 2078.42) rotate(-90) scale(1 1.03)" font-size="43.75" fill="#231F20">Favours</text>
<text transform="translate(792.8 2078.17) rotate(-90) scale(1 1.03)" font-size="43.75" fill="#231F20">1 dose</text>
<text transform="translate(754.7 2256.27) rotate(-90) scale(1 1.03)" font-size="43.75" fill="#231F20">Favours</text>
<text transform="translate(792.8 2257.21) rotate(-90) scale(1 1.03)" font-size="43.75" fill="#231F20">2 dose</text>
<line x1="814.5" y1="2073.6" x2="814.5" y2="1980" stroke="#231F20" stroke-width="3"/>
<path d="M814.5 1957.7L802.9 1985L814.5 1980.5L826.1 1985Z" fill="#231F20"/>
<line x1="814.5" y1="2098.5" x2="814.5" y2="2192" stroke="#231F20" stroke-width="3"/>
<path d="M814.5 2214.6L802.9 2187.3L814.5 2191.8L826.1 2187.3Z" fill="#231F20"/>
<rect x="1068" y="1560" width="182.75" height="759" fill="#FAF3D1"/>
<path d="M1156.25 1615.25V1869.5M1080 1615.25H1232.5M1080 1869.5H1232.5" stroke="#000" stroke-width="5.6" fill="none"/>
<circle cx="1156.25" cy="1683.75" r="11.6" fill="#000"/>
<path d="M1341.2 1635V1928.2M1264.3 1635H1417.8M1264.3 1928.2H1417.8" stroke="#9189C7" stroke-width="5.6" fill="none"/>
<circle cx="1341.2" cy="1747.2" r="11.6" fill="#9189C7"/>
<path d="M1520.8 1661.7V2052.6M1443.9 1661.7H1597.6M1443.9 2052.6H1597.6" stroke="#F26B21" stroke-width="5.6" fill="none"/>
<circle cx="1520.8" cy="1811" r="11.6" fill="#F26B21"/>
<path d="M1697.8 1662.7V2058.2M1621.2 1662.7H1774.4M1621.2 2058.2H1774.4" stroke="#BE3A26" stroke-width="5.6" fill="none"/>
<circle cx="1697.8" cy="1813.6" r="11.6" fill="#BE3A26"/>
<line x1="1055.24" y1="2285.2" x2="1796.3" y2="2285.2" stroke="#231F20" stroke-width="3.4" stroke-dasharray="6.9 8.72"/>
<line x1="1054.15" y1="1561.9" x2="1054.15" y2="2322.4" stroke="#000" stroke-width="3.8"/>
<line x1="1052.25" y1="2320.5" x2="1799.9" y2="2320.5" stroke="#000" stroke-width="3.9"/>
<line x1="1040.4" y1="1575.1" x2="1054" y2="1575.1" stroke="#231F20" stroke-width="4"/>
<line x1="1040.4" y1="1712" x2="1054" y2="1712" stroke="#231F20" stroke-width="4"/>
<line x1="1040.4" y1="1869.5" x2="1054" y2="1869.5" stroke="#231F20" stroke-width="4"/>
<line x1="1040.4" y1="2056.3" x2="1054" y2="2056.3" stroke="#231F20" stroke-width="4"/>
<line x1="1040.4" y1="2285" x2="1054" y2="2285" stroke="#231F20" stroke-width="4"/>
<line x1="1156.25" y1="2320.5" x2="1156.25" y2="2334.7" stroke="#231F20" stroke-width="4.1"/>
<line x1="1341.2" y1="2320.5" x2="1341.2" y2="2334.7" stroke="#231F20" stroke-width="4.1"/>
<line x1="1520.8" y1="2320.5" x2="1520.8" y2="2334.7" stroke="#231F20" stroke-width="4.1"/>
<line x1="1697.9" y1="2320.5" x2="1697.9" y2="2334.7" stroke="#231F20" stroke-width="4.1"/>
<text transform="translate(969.21 1587.3) scale(1 1)" font-size="35" fill="#231F20">2.00</text>
<text transform="translate(969.31 1724.2) scale(1 1)" font-size="35" fill="#231F20">1.75</text>
<text transform="translate(969.21 1881.7) scale(1 1)" font-size="35" fill="#231F20">1.50</text>
<text transform="translate(969.31 2068.5) scale(1 1)" font-size="35" fill="#231F20">1.25</text>
<text transform="translate(969.21 2297.2) scale(1 1)" font-size="35" fill="#231F20">1.00</text>
<text transform="translate(1328.88 2362.9) scale(1 1)" font-size="35" fill="#231F20">4</text>
<text transform="translate(1500.52 2362.9) scale(1 1)" font-size="35" fill="#231F20">26</text>
<text transform="translate(1680.61 2362.9) scale(1 1)" font-size="35" fill="#231F20">52</text>
<text transform="translate(1014.91 2379.4) scale(1 1.03)" font-size="43.75" fill="#231F20">Predicted from</text>
<text transform="translate(1029.69 2431.1) scale(1 1.03)" font-size="43.75" fill="#231F20">effectiveness</text>
<text transform="translate(1067.96 2471.5) scale(1 1.03)" font-size="34.48" fill="#231F20">(no waning)</text>
<text transform="translate(1312.4 2415) scale(1 1.03)" font-size="43.75" fill="#000">Dose interval (weeks)</text>
<text transform="translate(1347.48 2462) scale(1 1.03)" font-size="34.24" fill="#000">(with predicted waning)</text>
<text transform="translate(957 2100.03) rotate(-90) scale(1 1.03)" font-size="43.75" fill="#000">Ratio of cases averted</text>
<text transform="translate(1723.7 2276.27) rotate(-90) scale(1 1.03)" font-size="43.75" fill="#231F20">Favours</text>
<text transform="translate(1760.5 2276.27) rotate(-90) scale(1 1.03)" font-size="43.75" fill="#231F20">1 dose</text>
<line x1="1783" y1="2272.5" x2="1783" y2="2178" stroke="#231F20" stroke-width="3"/>
<path d="M1783 2155.8L1771.4 2183.1L1783 2178.6L1794.6 2183.1Z" fill="#231F20"/>
</svg>
</body></html>
